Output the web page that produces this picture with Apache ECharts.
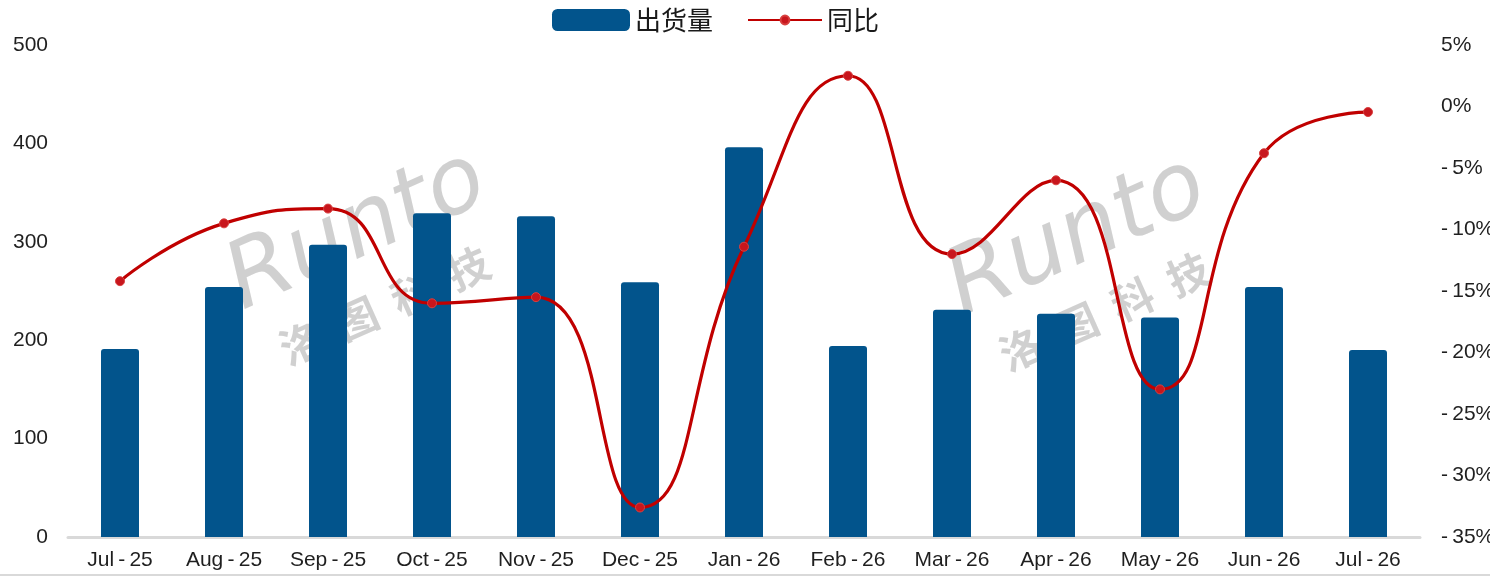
<!DOCTYPE html>
<html>
<head>
<meta charset="utf-8">
<script src="https://cdn.jsdelivr.net/npm/echarts@6/dist/echarts.min.js"></script>
<style>
html,body{margin:0;padding:0;background:#fff;}
#c{width:1490px;height:576px;}
</style>
</head>
<body>
<div id="c"></div>
<script>
const categories = ['Jul-25','Aug-25','Sep-25','Oct-25','Nov-25','Dec-25','Jan-26','Feb-26','Mar-26','Apr-26','May-26','Jun-26','Jul-26'];
const shipments = [191, 254, 297, 329, 326, 259, 396, 194, 231, 227, 223, 254, 190];
const yoy = [-14.2, -9.5, -8.3, -16.0, -15.5, -32.6, -11.4, 2.5, -12.0, -6.0, -23.0, -3.8, -0.45];
const leftTicks = [0, 500, 100];
const rightTicks = [-35, 5, 5];

const FONT = '"Noto Sans CJK SC", "Noto Sans", sans-serif';
const NUMFONT = '"Liberation Sans", Arial, sans-serif';
const chart = echarts.init(document.getElementById('c'));

function watermark(cx, cy) {
  return {
    type: 'group',
    x: cx, y: cy,
    rotation: 0.42,
    z: 100,
    silent: true,
    children: [
      {type: 'text', x: 5, y: -30, style: {text: 'Runto', fontSize: 92, fontStyle: 'italic', fontFamily: '"DejaVu Sans"', fontWeight: 'normal', fill: 'rgba(200,200,200,0.85)', align: 'center', verticalAlign: 'middle'}},
      {type: 'text', x: 0, y: 48, style: {text: '洛  图  科  技', fontSize: 42, fontWeight: 'bold', fontFamily: FONT, fill: 'rgba(200,200,200,0.85)', align: 'center', verticalAlign: 'middle'}}
    ]
  };
}

chart.setOption({
  animation: false,
  textStyle: {fontFamily: FONT},
  legend: [
    {
      top: 2, left: 547,
      itemWidth: 78, itemHeight: 22,
      textStyle: {fontSize: 26, color: '#1a1a1a', fontFamily: FONT},
      data: [{name: '出货量', icon: 'roundRect'}]
    },
    {
      top: 2, left: 742,
      itemWidth: 74, itemHeight: 11,
      textStyle: {fontSize: 26, color: '#1a1a1a', fontFamily: FONT},
      data: [{name: '同比'}]
    }
  ],
  grid: {left: 68, right: 70, top: 45, bottom: 39, containLabel: false, outerBoundsMode: 'none'},
  xAxis: {
    type: 'category',
    data: categories,
    axisLine: {lineStyle: {color: '#D9D9D9', width: 3}},
    axisTick: {show: false},
    axisLabel: {fontSize: 21, color: '#1f1f1f', margin: 13, fontFamily: NUMFONT,
      formatter: v => v.replace('-', '\u2009-\u2009')}
  },
  yAxis: [
    {
      type: 'value', min: leftTicks[0], max: leftTicks[1], interval: leftTicks[2],
      splitLine: {show: false}, axisLine: {show: false}, axisTick: {show: false},
      axisLabel: {fontSize: 21, color: '#1f1f1f', margin: 20, fontFamily: NUMFONT}
    },
    {
      type: 'value', min: rightTicks[0], max: rightTicks[1], interval: rightTicks[2],
      splitLine: {show: false}, axisLine: {show: false}, axisTick: {show: false},
      axisLabel: {fontSize: 21, color: '#1f1f1f', margin: 21, fontFamily: NUMFONT,
        formatter: v => (v < 0 ? '-\u2009' + Math.abs(v) : v) + '%'}
    }
  ],
  series: [
    {
      name: '出货量', type: 'bar', data: shipments, barWidth: 38,
      itemStyle: {color: '#02548C', borderRadius: [3, 3, 0, 0]},
      z: 2
    },
    {
      name: '同比', type: 'line', yAxisIndex: 1, data: yoy, smooth: 0.5,
      lineStyle: {color: '#C00000', width: 3.2},
      symbol: 'circle', symbolSize: 9,
      itemStyle: {color: '#C8161D', borderColor: '#D8403F', borderWidth: 1},
      z: 3
    }
  ],
  graphic: [
    watermark(365, 262),
    watermark(1085, 268),
    {type: 'rect', shape: {x: 0, y: 574, width: 1490, height: 2}, style: {fill: '#D9D9D9'}, silent: true}
  ]
});
</script>
</body>
</html>
